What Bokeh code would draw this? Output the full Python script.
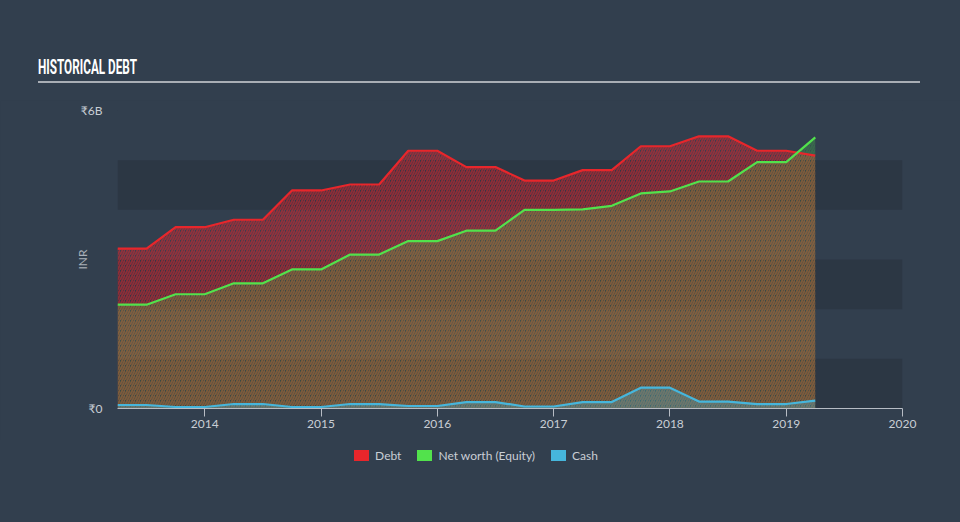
from bokeh.plotting import figure
from bokeh.layouts import column
from bokeh.models import (Range1d, FixedTicker, BoxAnnotation, ColumnDataSource,
                          Div)
from bokeh.embed import file_html
from bokeh.resources import INLINE

# ---- data (values in billions of INR) ----
dates = [2013.25, 2013.5, 2013.75, 2014.0, 2014.25, 2014.5, 2014.75, 2015.0,
         2015.25, 2015.5, 2015.75, 2016.0, 2016.25, 2016.5, 2016.75, 2017.0,
         2017.25, 2017.5, 2017.75, 2018.0, 2018.25, 2018.5, 2018.75, 2019.0,
         2019.25]
debt = [3.22, 3.22, 3.65, 3.65, 3.80, 3.80, 4.39, 4.39,
        4.51, 4.51, 5.19, 5.19, 4.86, 4.86, 4.59, 4.59,
        4.80, 4.80, 5.28, 5.28, 5.48, 5.48, 5.19, 5.19,
        5.09]
equity = [2.09, 2.09, 2.30, 2.30, 2.52, 2.52, 2.80, 2.80,
          3.10, 3.10, 3.37, 3.37, 3.58, 3.58, 4.00, 4.00,
          4.01, 4.08, 4.33, 4.37, 4.57, 4.57, 4.96, 4.96,
          5.46]
cash = [0.07, 0.07, 0.03, 0.03, 0.09, 0.09, 0.03, 0.03,
        0.09, 0.09, 0.05, 0.05, 0.13, 0.13, 0.04, 0.04,
        0.13, 0.13, 0.42, 0.42, 0.14, 0.14, 0.09, 0.09,
        0.16]
year_ticks = [2014, 2015, 2016, 2017, 2018, 2019, 2020]
y_ticks = [0, 6]
y_tick_labels = {0: "₹0", 6: "₹6B"}
series_names = ["Debt", "Net worth (Equity)", "Cash"]
title_text = "HISTORICAL DEBT"
y_axis_title = "INR"

BG = "#323f4e"
BAND = "#2c3744"
RED = "#e8262b"
GREEN = "#52e24c"
BLUE = "#46b6dc"
TXT = "#c9ced5"
FONT = "Lato"
W = 960
series_colors = [RED, GREEN, BLUE]

# ---- header (title + rule) ----
header_html = (
    f'<div style="position:relative;width:{W}px;height:100px;background:{BG};">'
    f'<div style="position:absolute;left:38px;top:55px;white-space:nowrap;'
    f'font-family:Roboto,\'Liberation Sans\',sans-serif;font-weight:700;'
    f'font-size:21px;line-height:24px;color:#ffffff;transform:scaleX(0.56);'
    f'transform-origin:0 0;letter-spacing:0px;">{title_text}</div>'
    f'<div style="position:absolute;left:38px;top:81px;width:882px;height:2px;'
    f'background:#a9aeb5;"></div></div>'
)
header = Div(text=header_html, width=W, height=100, margin=0,
             styles={"background-color": BG})

# ---- main chart ----
p = figure(width=W, height=340, output_backend="svg", toolbar_location=None,
           x_range=Range1d(dates[0], 2020), y_range=Range1d(0, 6), title=None,
           min_border_left=117, min_border_right=58, min_border_top=10,
           min_border_bottom=32,
           background_fill_color=BG, border_fill_color=BG,
           outline_line_color=BG, margin=0)
p.outline_line_alpha = 1

for b, t in [(0, 1), (2, 3), (4, 5)]:
    p.add_layout(BoxAnnotation(bottom=b, top=t, fill_color=BAND, fill_alpha=1,
                               line_color=None, level="underlay"))

src = ColumnDataSource(dict(x=dates, debt=debt, equity=equity, cash=cash,
                            zero=[0] * len(dates)))

p.varea(x="x", y1="zero", y2="debt", source=src, fill_color=RED,
        fill_alpha=0.06, hatch_pattern="/", hatch_color=RED, hatch_alpha=0.5,
        hatch_scale=5, hatch_weight=1.8)
p.varea(x="x", y1="zero", y2="equity", source=src, fill_color=GREEN,
        fill_alpha=0.12, hatch_pattern="/", hatch_color=GREEN,
        hatch_alpha=0.16, hatch_scale=5, hatch_weight=1.8)
p.varea(x="x", y1="zero", y2="cash", source=src, fill_color=BLUE,
        fill_alpha=0.3)

p.line(x="x", y="debt", source=src, line_color=RED, line_width=2.2)
p.line(x="x", y="equity", source=src, line_color=GREEN, line_width=2.2)
p.line(x="x", y="cash", source=src, line_color=BLUE, line_width=2.2)

p.xgrid.visible = False
p.ygrid.visible = False

xa = p.xaxis[0]
xa.ticker = FixedTicker(ticks=year_ticks)
xa.axis_line_color = "#b7bcc4"
xa.major_tick_line_color = "#b7bcc4"
xa.major_tick_out = 8
xa.major_tick_in = 0
xa.minor_tick_line_color = None
xa.major_label_text_color = TXT
xa.major_label_text_font = FONT
xa.major_label_text_font_size = "12px"
xa.major_label_standoff = 3

ya = p.yaxis[0]
ya.ticker = FixedTicker(ticks=y_ticks)
ya.major_label_overrides = y_tick_labels
ya.axis_line_color = None
ya.major_tick_line_color = None
ya.major_tick_out = 0
ya.major_tick_in = 0
ya.minor_tick_line_color = None
ya.major_label_text_color = TXT
ya.major_label_text_font = FONT
ya.major_label_text_font_size = "12px"
ya.major_label_standoff = 15
ya.axis_label = y_axis_title
ya.axis_label_text_color = "#aab0b8"
ya.axis_label_text_font = FONT
ya.axis_label_text_font_style = "normal"
ya.axis_label_text_font_size = "12px"
ya.axis_label_standoff = -12

# ---- legend strip ----
items_html = "".join(
    f'<span style="display:inline-flex;align-items:center;margin:0 8px;">'
    f'<span style="display:inline-block;width:15px;height:11px;'
    f'background:{c};margin-right:6px;"></span>{name}</span>'
    for name, c in zip(series_names, series_colors)
)
legend_html = (
    f'<div style="width:{W}px;height:82px;background:{BG};display:flex;'
    f'justify-content:center;align-items:flex-start;padding-top:8px;'
    f'box-sizing:border-box;font-family:Lato,sans-serif;font-size:12px;'
    f'line-height:15px;color:{TXT};padding-right:8px;">{items_html}</div>'
)
legend_div = Div(text=legend_html, width=W, height=82, margin=0,
                 styles={"background-color": BG})

layout = column(header, p, legend_div, spacing=0, margin=0,
                styles={"background-color": BG})
open("out.html", "w").write(file_html(layout, INLINE))
